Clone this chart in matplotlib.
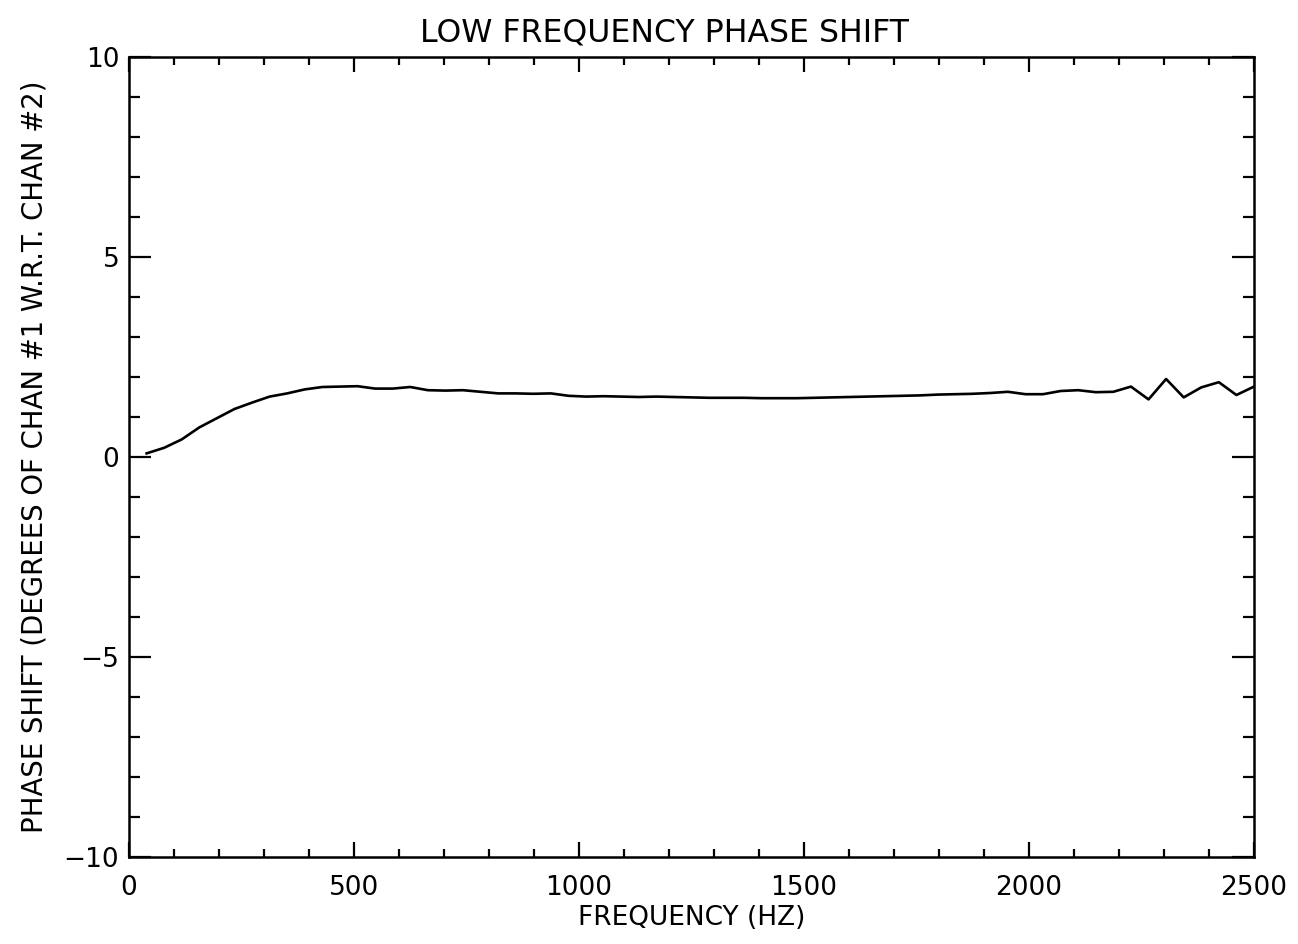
# Low frequency phase shift, chan #1 vs chan #2
import numpy as np
import matplotlib
matplotlib.use('Agg')
import matplotlib.pyplot as plt
from matplotlib.ticker import MultipleLocator

# frequency bins: 64 bins of 2500/64 Hz
freq = np.arange(1, 65) * 2500.0 / 64

# phase shift (degrees)
phase = [0.09, 0.23, 0.44, 0.74, 0.97, 1.20, 1.36, 1.51, 1.59, 1.69,
         1.75, 1.76, 1.77, 1.71, 1.71, 1.75, 1.67, 1.66, 1.67, 1.63,
         1.59, 1.59, 1.58, 1.59, 1.53, 1.51, 1.52, 1.51, 1.50, 1.51,
         1.50, 1.49, 1.48, 1.48, 1.48, 1.47, 1.47, 1.47, 1.48, 1.49,
         1.50, 1.51, 1.52, 1.53, 1.54, 1.56, 1.57, 1.58, 1.60, 1.63,
         1.57, 1.57, 1.65, 1.67, 1.62, 1.63, 1.76, 1.44, 1.95, 1.49,
         1.74, 1.87, 1.55, 1.76]

plt.rcParams['font.family'] = ['DejaVu Sans']

fig = plt.figure(figsize=(12.98, 9.44), dpi=100)
ax = fig.add_axes([0.0994, 0.0922, 0.8667, 0.8474])

ax.plot(freq, phase, color='black', linewidth=1.9)

ax.set_xlim(0, 2500)
ax.set_ylim(-10, 10)
ax.xaxis.set_major_locator(MultipleLocator(500))
ax.xaxis.set_minor_locator(MultipleLocator(100))
ax.yaxis.set_major_locator(MultipleLocator(5))
ax.yaxis.set_minor_locator(MultipleLocator(1))

ax.tick_params(axis='x', which='major', direction='in', top=True,
               length=11, width=1.6, pad=13, labelsize=19)
ax.tick_params(axis='x', which='minor', direction='in', top=True,
               length=5.5, width=1.6)
ax.tick_params(axis='y', which='major', direction='in', right=True,
               length=16, width=1.6, pad=7, labelsize=19)
ax.tick_params(axis='y', which='minor', direction='in', right=True,
               length=8, width=1.6)
for s in ax.spines.values():
    s.set_linewidth(1.8)

# title sits a little left of the axes centre in the original
ax.set_title('LOW FREQUENCY PHASE SHIFT', fontsize=22.7, pad=11, x=0.476)
ax.set_xlabel('FREQUENCY (HZ)', fontsize=19, labelpad=3)
ax.set_ylabel('PHASE SHIFT (DEGREES OF CHAN #1 W.R.T. CHAN #2)',
              fontsize=19.8, labelpad=11)

fig.savefig('out.png', dpi=100)
